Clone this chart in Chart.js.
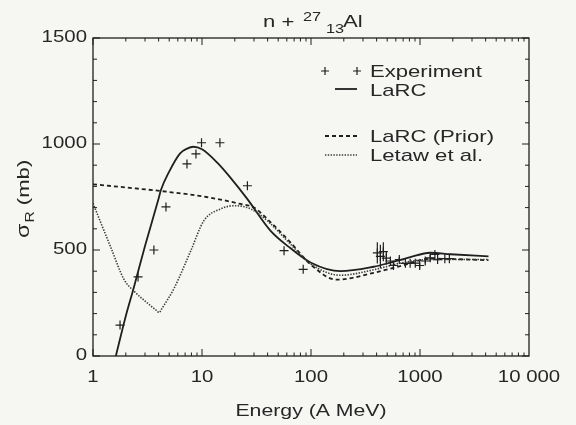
<!DOCTYPE html>
<html>
<head>
<meta charset="utf-8">
<script src="https://cdn.jsdelivr.net/npm/chart.js@4/dist/chart.umd.min.js"></script>
<style>
  html, body { margin: 0; padding: 0; background: #f6f6f3; }
  canvas { display: block; }
</style>
</head>
<body>
<canvas id="chart" width="576" height="425"></canvas>
<script>
// values (energy in A MeV, sigma_R in mb)
const expEnergy = [1.77, 2.59, 3.62, 4.67, 7.28, 8.8, 9.9, 14.6, 26.1, 56.6, 84.8,
    406, 433, 461, 491, 535, 570, 646, 735, 812, 905, 993, 1118, 1240, 1370, 1450, 1690, 1860];
const expSigma = [146, 373, 500, 703, 906, 953, 1006, 1006, 803, 497, 409,
    486, 470, 492, 462, 448, 427, 455, 437, 438, 438, 427, 448, 463, 479, 455, 459, 459];
const expError = [0, 0, 0, 0, 0, 0, 0, 0, 0, 0, 0,
    50, 55, 45, 30, 0, 0, 12, 0, 0, 0, 14, 12, 15, 0, 0, 0, 0];

const larcEnergy = [1.62, 2.0, 2.36, 3.0, 4.0, 4.2, 5.0, 6.3, 7.3, 8.3, 10, 13.8, 18.3, 26, 42.6, 65, 100, 186, 376, 534, 800, 1240, 1900, 4250];
const larcSigma  = [0, 189, 320, 519, 743, 783, 870, 956, 978, 987, 975, 912, 840, 741, 590, 508, 440, 400, 421, 440, 465, 487, 480, 470];

const priorEnergy = [1, 2, 4.2, 11, 22.6, 30, 39.7, 65, 99, 172, 376, 659, 1240, 4250];
const priorSigma  = [810, 795, 778, 750, 717, 700, 646, 535, 432, 360, 392, 424, 459, 452];

const letawEnergy = [1, 1.46, 1.93, 2.39, 3.17, 3.8, 4.04, 4.3, 5.55, 7.87, 10.4, 14.9, 19.6, 27.9, 39.7, 65, 99, 186, 400, 660, 1240, 4250];
const letawSigma  = [720, 511, 360, 305, 249, 216, 205, 225, 320, 495, 638, 694, 709, 694, 638, 527, 435, 381, 410, 438, 455, 455];

const xTickValues = [1, 10, 100, 1000, 10000];
const xTickLabels = ['1', '10', '100', '1000', '10 000'];
const yTickValues = [0, 500, 1000, 1500];
const yTickLabels = ['0', '500', '1000', '1500'];

const INK = '#1f1f1f';
const DOT = '#3a3a3a';
const FONT = '"Liberation Sans", Arial, sans-serif';

const pts = (xs, ys) => xs.map((x, i) => ({ x, y: ys[i] }));

// draw text wider than normal, the scan of the original is stretched horizontally
function wideText(ctx, text, x, y, size, stretch, align) {
    ctx.save();
    ctx.font = size + 'px ' + FONT;
    const w = ctx.measureText(text).width * stretch;
    let x0 = x;
    if (align === 'center') x0 = x - w / 2;
    if (align === 'right') x0 = x - w;
    ctx.translate(x0, y);
    ctx.scale(stretch, 1);
    ctx.textAlign = 'left';
    ctx.fillText(text, 0, 0);
    ctx.restore();
    return w;
}

const framePlugin = {
    id: 'frame',
    beforeDraw(chart) {
        const { ctx, width, height } = chart;
        ctx.save();
        ctx.fillStyle = '#f6f6f3';
        ctx.fillRect(0, 0, width, height);
        ctx.restore();
    },
    afterDatasetsDraw(chart) {
        // error bars on experimental points
        const { ctx, scales: { x, y } } = chart;
        ctx.save();
        ctx.strokeStyle = INK;
        ctx.lineWidth = 1.2;
        expEnergy.forEach((e, i) => {
            if (!expError[i]) return;
            const px = x.getPixelForValue(e);
            ctx.beginPath();
            ctx.moveTo(px, y.getPixelForValue(expSigma[i] - expError[i]));
            ctx.lineTo(px, y.getPixelForValue(expSigma[i] + expError[i]));
            ctx.stroke();
        });
        ctx.restore();
    },
    afterDraw(chart) {
        const { ctx, chartArea: a, scales: { x, y } } = chart;
        ctx.save();
        ctx.strokeStyle = INK;
        ctx.fillStyle = '#262626';
        ctx.lineWidth = 1.3;
        ctx.strokeRect(a.left, a.top, a.right - a.left, a.bottom - a.top);

        // inward ticks on all four sides
        ctx.lineWidth = 1;
        ctx.beginPath();
        for (let d = 1; d < 10000; d *= 10) {
            for (let m = 1; m <= 9; m++) {
                const px = x.getPixelForValue(d * m);
                const len = m === 1 ? 7 : 3.5;
                ctx.moveTo(px, a.bottom); ctx.lineTo(px, a.bottom - len);
                ctx.moveTo(px, a.top); ctx.lineTo(px, a.top + len);
            }
        }
        for (let v = 0; v <= 1500; v += 100) {
            const py = y.getPixelForValue(v);
            const len = v % 500 === 0 ? 7 : 4;
            ctx.moveTo(a.left, py); ctx.lineTo(a.left + len, py);
            ctx.moveTo(a.right, py); ctx.lineTo(a.right - len, py);
        }
        ctx.stroke();

        // tick labels
        ctx.textBaseline = 'middle';
        xTickValues.forEach((v, i) => {
            wideText(ctx, xTickLabels[i], x.getPixelForValue(v), a.bottom + 21, 17, 1.2, 'center');
        });
        yTickValues.forEach((v, i) => {
            wideText(ctx, yTickLabels[i], a.left - 6, y.getPixelForValue(v) - 1, 17, 1.2, 'right');
        });

        // axis titles
        ctx.textBaseline = 'alphabetic';
        wideText(ctx, 'Energy (A MeV)', (a.left + a.right) / 2, 416, 17, 1.25, 'center');

        ctx.save();
        ctx.translate(29, 238);
        ctx.rotate(-Math.PI / 2);
        let cx = 0;
        cx += wideText(ctx, 'σ', cx, 0, 18, 1.3, 'left');
        ctx.save(); ctx.translate(0, 5);
        cx += wideText(ctx, 'R', cx + 1, 0, 12, 1.3, 'left') + 1;
        ctx.restore();
        wideText(ctx, ' (mb)', cx, 0, 17, 1.3, 'left');
        ctx.restore();

        // title n + 27/13 Al
        wideText(ctx, 'n +', 263, 27, 17, 1.3, 'left');
        wideText(ctx, '27', 303, 21, 13, 1.25, 'left');
        wideText(ctx, '13', 326, 33, 13, 1.25, 'left');
        wideText(ctx, 'Al', 343, 27, 17, 1.3, 'left');

        // legend
        ctx.textBaseline = 'middle';
        const lx0 = 325, lx1 = 357, tx = 370;
        const drawCross = (cxp, cyp) => {
            ctx.beginPath();
            ctx.moveTo(cxp - 4, cyp); ctx.lineTo(cxp + 4, cyp);
            ctx.moveTo(cxp, cyp - 4); ctx.lineTo(cxp, cyp + 4);
            ctx.stroke();
        };
        ctx.lineWidth = 1.2;
        drawCross(lx0, 71); drawCross(lx1, 71);
        wideText(ctx, 'Experiment', tx, 72, 17, 1.3, 'left');

        ctx.lineWidth = 1.8;
        ctx.beginPath(); ctx.moveTo(335, 89); ctx.lineTo(lx1, 89); ctx.stroke();
        wideText(ctx, 'LaRC', tx, 91, 17, 1.3, 'left');

        ctx.setLineDash([4, 3]);
        ctx.beginPath(); ctx.moveTo(lx0, 136); ctx.lineTo(lx1, 136); ctx.stroke();
        wideText(ctx, 'LaRC (Prior)', tx, 137, 17, 1.3, 'left');

        ctx.strokeStyle = DOT;
        ctx.lineWidth = 1.6;
        ctx.setLineDash([1.4, 1.4]);
        ctx.beginPath(); ctx.moveTo(lx0, 155); ctx.lineTo(lx1, 155); ctx.stroke();
        ctx.setLineDash([]);
        wideText(ctx, 'Letaw et al.', tx, 156, 17, 1.3, 'left');
        ctx.restore();
    },
};

new Chart(document.getElementById('chart'), {
    type: 'scatter',
    data: {
        datasets: [
            {
                label: 'Letaw et al.',
                data: pts(letawEnergy, letawSigma),
                showLine: true,
                borderColor: DOT,
                borderWidth: 1.6,
                borderDash: [1.4, 1.4],
                pointRadius: 0,
                cubicInterpolationMode: 'monotone',
            },
            {
                label: 'LaRC (Prior)',
                data: pts(priorEnergy, priorSigma),
                showLine: true,
                borderColor: INK,
                borderWidth: 1.8,
                borderDash: [4, 3],
                pointRadius: 0,
                cubicInterpolationMode: 'monotone',
            },
            {
                label: 'LaRC',
                data: pts(larcEnergy, larcSigma),
                showLine: true,
                borderColor: INK,
                borderWidth: 1.8,
                pointRadius: 0,
                cubicInterpolationMode: 'monotone',
            },
            {
                label: 'Experiment',
                data: pts(expEnergy, expSigma),
                showLine: false,
                pointStyle: 'cross',
                pointRadius: 4.5,
                borderColor: INK,
                borderWidth: 1.2,
            },
        ],
    },
    options: {
        responsive: false,
        animation: false,
        devicePixelRatio: 1,
        layout: { padding: { left: 93, right: 47, top: 38, bottom: 69 } },
        plugins: { legend: { display: false }, tooltip: { enabled: false } },
        scales: {
            x: { type: 'logarithmic', min: 1, max: 10000, display: false },
            y: { type: 'linear', min: 0, max: 1500, display: false },
        },
    },
    plugins: [framePlugin],
});
</script>
</body>
</html>
